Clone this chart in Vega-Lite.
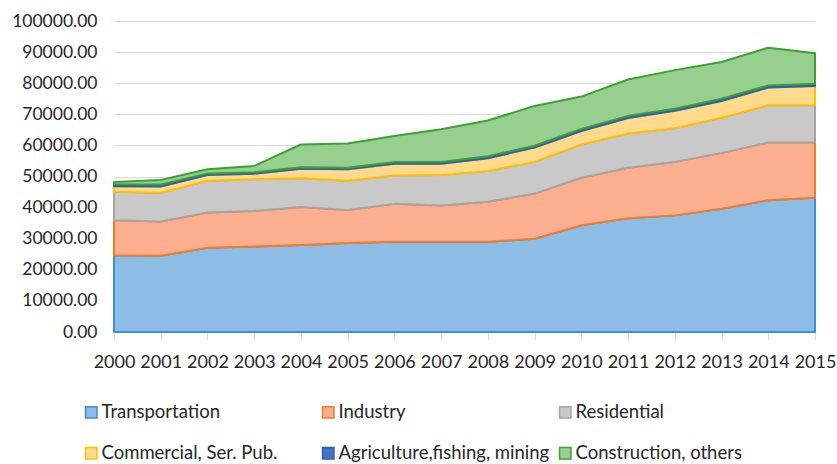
{
  "$schema": "https://vega.github.io/schema/vega-lite/v6.json",
  "width": 701,
  "height": 311,
  "autosize": {"type": "none"},
  "padding": {"left": 114, "top": 21, "right": 22, "bottom": 132},
  "background": "white",
  "config": {
    "font": "Lato",
    "view": {"stroke": null},
    "axis": {"labelFont": "Lato", "labelColor": "#262626"}
  },
  "data": {
    "values": [
      {"year": 2000, "sector": "Transportation", "k": 1, "value": 24700},
      {"year": 2001, "sector": "Transportation", "k": 1, "value": 24500},
      {"year": 2002, "sector": "Transportation", "k": 1, "value": 27100},
      {"year": 2003, "sector": "Transportation", "k": 1, "value": 27500},
      {"year": 2004, "sector": "Transportation", "k": 1, "value": 28000},
      {"year": 2005, "sector": "Transportation", "k": 1, "value": 28600},
      {"year": 2006, "sector": "Transportation", "k": 1, "value": 29000},
      {"year": 2007, "sector": "Transportation", "k": 1, "value": 29000},
      {"year": 2008, "sector": "Transportation", "k": 1, "value": 29000},
      {"year": 2009, "sector": "Transportation", "k": 1, "value": 30000},
      {"year": 2010, "sector": "Transportation", "k": 1, "value": 34300},
      {"year": 2011, "sector": "Transportation", "k": 1, "value": 36600},
      {"year": 2012, "sector": "Transportation", "k": 1, "value": 37500},
      {"year": 2013, "sector": "Transportation", "k": 1, "value": 39600},
      {"year": 2014, "sector": "Transportation", "k": 1, "value": 42400},
      {"year": 2015, "sector": "Transportation", "k": 1, "value": 43200},
      {"year": 2000, "sector": "Industry", "k": 2, "value": 11200},
      {"year": 2001, "sector": "Industry", "k": 2, "value": 11000},
      {"year": 2002, "sector": "Industry", "k": 2, "value": 11300},
      {"year": 2003, "sector": "Industry", "k": 2, "value": 11400},
      {"year": 2004, "sector": "Industry", "k": 2, "value": 12200},
      {"year": 2005, "sector": "Industry", "k": 2, "value": 10600},
      {"year": 2006, "sector": "Industry", "k": 2, "value": 12200},
      {"year": 2007, "sector": "Industry", "k": 2, "value": 11700},
      {"year": 2008, "sector": "Industry", "k": 2, "value": 12900},
      {"year": 2009, "sector": "Industry", "k": 2, "value": 14500},
      {"year": 2010, "sector": "Industry", "k": 2, "value": 15300},
      {"year": 2011, "sector": "Industry", "k": 2, "value": 16200},
      {"year": 2012, "sector": "Industry", "k": 2, "value": 17200},
      {"year": 2013, "sector": "Industry", "k": 2, "value": 18000},
      {"year": 2014, "sector": "Industry", "k": 2, "value": 18500},
      {"year": 2015, "sector": "Industry", "k": 2, "value": 17700},
      {"year": 2000, "sector": "Residential", "k": 3, "value": 9200},
      {"year": 2001, "sector": "Residential", "k": 3, "value": 9300},
      {"year": 2002, "sector": "Residential", "k": 3, "value": 10200},
      {"year": 2003, "sector": "Residential", "k": 3, "value": 10200},
      {"year": 2004, "sector": "Residential", "k": 3, "value": 9200},
      {"year": 2005, "sector": "Residential", "k": 3, "value": 9400},
      {"year": 2006, "sector": "Residential", "k": 3, "value": 9100},
      {"year": 2007, "sector": "Residential", "k": 3, "value": 9800},
      {"year": 2008, "sector": "Residential", "k": 3, "value": 9900},
      {"year": 2009, "sector": "Residential", "k": 3, "value": 10200},
      {"year": 2010, "sector": "Residential", "k": 3, "value": 10700},
      {"year": 2011, "sector": "Residential", "k": 3, "value": 11000},
      {"year": 2012, "sector": "Residential", "k": 3, "value": 10800},
      {"year": 2013, "sector": "Residential", "k": 3, "value": 11300},
      {"year": 2014, "sector": "Residential", "k": 3, "value": 12000},
      {"year": 2015, "sector": "Residential", "k": 3, "value": 12000},
      {"year": 2000, "sector": "Commercial, Ser. Pub.", "k": 4, "value": 1800},
      {"year": 2001, "sector": "Commercial, Ser. Pub.", "k": 4, "value": 2000},
      {"year": 2002, "sector": "Commercial, Ser. Pub.", "k": 4, "value": 1900},
      {"year": 2003, "sector": "Commercial, Ser. Pub.", "k": 4, "value": 1800},
      {"year": 2004, "sector": "Commercial, Ser. Pub.", "k": 4, "value": 3100},
      {"year": 2005, "sector": "Commercial, Ser. Pub.", "k": 4, "value": 3700},
      {"year": 2006, "sector": "Commercial, Ser. Pub.", "k": 4, "value": 3800},
      {"year": 2007, "sector": "Commercial, Ser. Pub.", "k": 4, "value": 3600},
      {"year": 2008, "sector": "Commercial, Ser. Pub.", "k": 4, "value": 4100},
      {"year": 2009, "sector": "Commercial, Ser. Pub.", "k": 4, "value": 4600},
      {"year": 2010, "sector": "Commercial, Ser. Pub.", "k": 4, "value": 4300},
      {"year": 2011, "sector": "Commercial, Ser. Pub.", "k": 4, "value": 5000},
      {"year": 2012, "sector": "Commercial, Ser. Pub.", "k": 4, "value": 5600},
      {"year": 2013, "sector": "Commercial, Ser. Pub.", "k": 4, "value": 5400},
      {"year": 2014, "sector": "Commercial, Ser. Pub.", "k": 4, "value": 5700},
      {"year": 2015, "sector": "Commercial, Ser. Pub.", "k": 4, "value": 6200},
      {"year": 2000, "sector": "Agriculture,fishing, mining", "k": 5, "value": 600},
      {"year": 2001, "sector": "Agriculture,fishing, mining", "k": 5, "value": 600},
      {"year": 2002, "sector": "Agriculture,fishing, mining", "k": 5, "value": 500},
      {"year": 2003, "sector": "Agriculture,fishing, mining", "k": 5, "value": 500},
      {"year": 2004, "sector": "Agriculture,fishing, mining", "k": 5, "value": 500},
      {"year": 2005, "sector": "Agriculture,fishing, mining", "k": 5, "value": 500},
      {"year": 2006, "sector": "Agriculture,fishing, mining", "k": 5, "value": 600},
      {"year": 2007, "sector": "Agriculture,fishing, mining", "k": 5, "value": 600},
      {"year": 2008, "sector": "Agriculture,fishing, mining", "k": 5, "value": 600},
      {"year": 2009, "sector": "Agriculture,fishing, mining", "k": 5, "value": 600},
      {"year": 2010, "sector": "Agriculture,fishing, mining", "k": 5, "value": 700},
      {"year": 2011, "sector": "Agriculture,fishing, mining", "k": 5, "value": 700},
      {"year": 2012, "sector": "Agriculture,fishing, mining", "k": 5, "value": 700},
      {"year": 2013, "sector": "Agriculture,fishing, mining", "k": 5, "value": 700},
      {"year": 2014, "sector": "Agriculture,fishing, mining", "k": 5, "value": 700},
      {"year": 2015, "sector": "Agriculture,fishing, mining", "k": 5, "value": 700},
      {"year": 2000, "sector": "Construction, others", "k": 6, "value": 700},
      {"year": 2001, "sector": "Construction, others", "k": 6, "value": 1500},
      {"year": 2002, "sector": "Construction, others", "k": 6, "value": 1300},
      {"year": 2003, "sector": "Construction, others", "k": 6, "value": 2000},
      {"year": 2004, "sector": "Construction, others", "k": 6, "value": 7300},
      {"year": 2005, "sector": "Construction, others", "k": 6, "value": 7800},
      {"year": 2006, "sector": "Construction, others", "k": 6, "value": 8300},
      {"year": 2007, "sector": "Construction, others", "k": 6, "value": 10500},
      {"year": 2008, "sector": "Construction, others", "k": 6, "value": 11500},
      {"year": 2009, "sector": "Construction, others", "k": 6, "value": 12800},
      {"year": 2010, "sector": "Construction, others", "k": 6, "value": 10400},
      {"year": 2011, "sector": "Construction, others", "k": 6, "value": 11700},
      {"year": 2012, "sector": "Construction, others", "k": 6, "value": 12400},
      {"year": 2013, "sector": "Construction, others", "k": 6, "value": 11800},
      {"year": 2014, "sector": "Construction, others", "k": 6, "value": 12100},
      {"year": 2015, "sector": "Construction, others", "k": 6, "value": 9800}
    ]
  },
  "mark": {"type": "area", "strokeWidth": 2, "strokeJoin": "round", "fillOpacity": 1},
  "encoding": {
    "x": {
      "field": "year",
      "type": "quantitative",
      "scale": {"domain": [2000, 2015], "nice": false, "zero": false},
      "axis": {
        "title": null,
        "values": [2000, 2001, 2002, 2003, 2004, 2005, 2006, 2007, 2008, 2009, 2010, 2011, 2012, 2013, 2014, 2015],
        "format": "d",
        "grid": false,
        "domain": true,
        "domainColor": "#D9D9D9",
        "ticks": true,
        "tickColor": "#D9D9D9",
        "tickSize": 8,
        "labelPadding": 13,
        "labelFontSize": 18,
        "labelFlush": false,
        "labelOverlap": false
      }
    },
    "y": {
      "field": "value",
      "type": "quantitative",
      "stack": "zero",
      "scale": {"domain": [0, 100000], "nice": false},
      "axis": {
        "title": null,
        "values": [0, 10000, 20000, 30000, 40000, 50000, 60000, 70000, 80000, 90000, 100000],
        "format": ".2f",
        "grid": true,
        "gridColor": "#D9D9D9",
        "gridWidth": 1,
        "domain": false,
        "ticks": false,
        "labelFontSize": 17.5,
        "labelPadding": 17
      }
    },
    "order": {"field": "k", "type": "quantitative"},
    "color": {
      "field": "sector",
      "type": "nominal",
      "scale": {
        "domain": ["Transportation", "Industry", "Residential", "Commercial, Ser. Pub.", "Agriculture,fishing, mining", "Construction, others"],
        "range": ["#8DBCE5", "#FCAF8F", "#C9C9C9", "#FFD98C", "#4472C4", "#97D08E"]
      },
      "legend": {
        "title": null,
        "orient": "none",
        "legendX": -32,
        "legendY": 382,
        "direction": "horizontal",
        "columns": 3,
        "gridAlign": "all",
        "columnPadding": 6,
        "rowPadding": 22,
        "symbolType": "square",
        "symbolSize": 130,
        "symbolStrokeWidth": 1.5,
        "labelFont": "Lato",
        "labelFontSize": 18.5,
        "labelColor": "#262626",
        "labelOffset": 1,
        "labelLimit": 300
      }
    },
    "stroke": {
      "field": "sector",
      "type": "nominal",
      "scale": {
        "domain": ["Transportation", "Industry", "Residential", "Commercial, Ser. Pub.", "Agriculture,fishing, mining", "Construction, others"],
        "range": ["#3A8FD6", "#F47B2A", "#A5A5A5", "#FFC000", "#2F5EB5", "#3DA035"]
      },
      "legend": {
        "title": null,
        "orient": "none",
        "legendX": -32,
        "legendY": 382,
        "direction": "horizontal",
        "columns": 3,
        "gridAlign": "all",
        "columnPadding": 6,
        "rowPadding": 22,
        "symbolType": "square",
        "symbolSize": 130,
        "symbolStrokeWidth": 1.5,
        "labelFont": "Lato",
        "labelFontSize": 18.5,
        "labelColor": "#262626",
        "labelOffset": 1,
        "labelLimit": 300
      }
    }
  }
}
